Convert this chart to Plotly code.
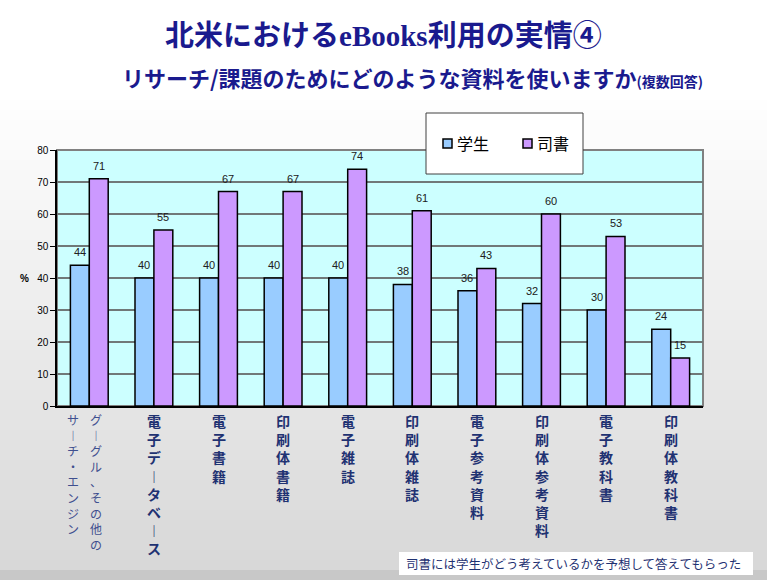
import plotly.graph_objects as go

# data
categories = ["グーグル、その他のサーチ・エンジン", "電子データベース", "電子書籍", "印刷体書籍", "電子雑誌",
              "印刷体雑誌", "電子参考資料", "印刷体参考資料", "電子教科書", "印刷体教科書"]
# how each category label is split into vertical columns (right column first)
label_columns = [["グーグル、その他の", "サーチ・エンジン"], ["電子データベース"], ["電子書籍"], ["印刷体書籍"],
                 ["電子雑誌"], ["印刷体雑誌"], ["電子参考資料"], ["印刷体参考資料"], ["電子教科書"], ["印刷体教科書"]]
students = [44, 40, 40, 40, 40, 38, 36, 32, 30, 24]
librarians = [71, 55, 67, 67, 74, 61, 43, 60, 53, 15]
series_names = ["学生", "司書"]
y_ticks = [0, 10, 20, 30, 40, 50, 60, 70, 80]

title_text = "北米における<span style='font-family:Liberation Serif'>eBooks</span>利用の実情④"
subtitle_text = "リサーチ/課題のためにどのような資料を使いますか<span style='font-size:14px'>(複数回答)</span>"
note_text = "司書には学生がどう考えているかを予想して答えてもらった"

W, H = 767, 580
L, R, T, B = 57, 64, 150, 174
PW, PH = W - L - R, H - T - B

BLUE = "#99CCFF"
PURPLE = "#CC99FF"
NAVY = "#1A1A8E"
LABEL = "#1F3272"
CJK = "Noto Sans CJK JP"
NARROW = "Liberation Sans Narrow, Arial Narrow, sans-serif"


def px_x(px):
    return (px - L) / PW


def px_y(py):
    return (H - B - py) / PH


def vertical(text):
    # stack characters top to bottom, long vowel mark in its vertical form
    return "<br>".join("︱" if ch == "ー" else ch for ch in text)


fig = go.Figure()
fig.add_trace(go.Bar(x=categories, y=students, name=series_names[0],
                     marker=dict(color=BLUE, line=dict(color="black", width=1.5))))
fig.add_trace(go.Bar(x=categories, y=librarians, name=series_names[1],
                     marker=dict(color=PURPLE, line=dict(color="black", width=1.5))))

shapes = []
# vertical gradient background
step = 10
for y0 in range(0, H, step):
    if y0 < 90:
        g = 255
    else:
        t = min(1.0, (y0 - 90) / (570 - 90))
        g = int(round(255 - t * 40))
    if y0 >= 570:
        g = 200
    col = "rgb(%d,%d,%d)" % (g, g, g)
    shapes.append(dict(type="rect", xref="paper", yref="paper", layer="below",
                       x0=px_x(0), x1=px_x(W), y0=px_y(y0 + step), y1=px_y(y0),
                       fillcolor=col, line=dict(width=0)))
# plot area
shapes.append(dict(type="rect", xref="paper", yref="paper", layer="below",
                   x0=0, x1=1, y0=0, y1=1, fillcolor="#CCFFFF",
                   line=dict(color="#808080", width=2)))
# legend box
shapes.append(dict(type="rect", xref="paper", yref="paper", layer="above",
                   x0=px_x(426), x1=px_x(583), y0=px_y(174), y1=px_y(113),
                   fillcolor="white", line=dict(color="#404040", width=1)))
shapes.append(dict(type="rect", xref="paper", yref="paper", layer="above",
                   x0=px_x(443), x1=px_x(452), y0=px_y(148), y1=px_y(139),
                   fillcolor=BLUE, line=dict(color="black", width=1.5)))
shapes.append(dict(type="rect", xref="paper", yref="paper", layer="above",
                   x0=px_x(523), x1=px_x(532), y0=px_y(148), y1=px_y(139),
                   fillcolor=PURPLE, line=dict(color="black", width=1.5)))
# note box
shapes.append(dict(type="rect", xref="paper", yref="paper", layer="above",
                   x0=px_x(399), x1=px_x(753), y0=px_y(575), y1=px_y(552),
                   fillcolor="white", line=dict(width=0)))

annotations = []
# titles
annotations.append(dict(xref="paper", yref="paper", x=px_x(383), y=px_y(33), xanchor="center", yanchor="middle",
                        showarrow=False, text="<b>" + title_text + "</b>",
                        font=dict(family=CJK, size=29, color=NAVY)))
annotations.append(dict(xref="paper", yref="paper", x=px_x(412), y=px_y(77), xanchor="center", yanchor="middle",
                        showarrow=False, text="<b>" + subtitle_text + "</b>",
                        font=dict(family=CJK, size=22, color=NAVY)))
# legend texts
annotations.append(dict(xref="paper", yref="paper", x=px_x(455), y=px_y(143), xanchor="left", yanchor="middle",
                        showarrow=False, text=series_names[0], font=dict(family=CJK, size=16, color="black")))
annotations.append(dict(xref="paper", yref="paper", x=px_x(535), y=px_y(143), xanchor="left", yanchor="middle",
                        showarrow=False, text=series_names[1], font=dict(family=CJK, size=16, color="black")))
# note
annotations.append(dict(xref="paper", yref="paper", x=px_x(404), y=px_y(563), xanchor="left", yanchor="middle",
                        showarrow=False, text=note_text, font=dict(family=CJK, size=12.5, color=LABEL)))
# y axis title
annotations.append(dict(xref="paper", yref="y", x=px_x(24), y=40, xanchor="center", yanchor="middle",
                        showarrow=False, text="<b>%</b>",
                        font=dict(family="Liberation Sans", size=10, color="black")))

# value labels above bars
for cat, s, lb in zip(categories, students, librarians):
    for val, shift in ((s, -9.5), (lb, 9.5)):
        annotations.append(dict(x=cat, y=val, xref="x", yref="y", xshift=shift, yshift=5,
                                xanchor="center", yanchor="bottom", showarrow=False, text=str(val),
                                font=dict(family=NARROW, size=11, color="#202020")))

# vertical category labels
for cat, cols in zip(categories, label_columns):
    if len(cols) > 1:
        offsets, fsize, weight, color = [7, -16], 12, "normal", "#3F4F8F"
    else:
        offsets, fsize, weight, color = [0], 14, "bold", LABEL
    for col_text, off in zip(cols, offsets):
        annotations.append(dict(x=cat, y=0, xref="x", yref="y", xshift=off, yshift=-3,
                                xanchor="center", yanchor="top", showarrow=False,
                                text=vertical(col_text),
                                font=dict(family=CJK, size=fsize, color=color, weight=weight)))

fig.update_layout(
    width=W, height=H,
    margin=dict(l=L, r=R, t=T, b=B),
    paper_bgcolor="white",
    plot_bgcolor="#CCFFFF",
    barmode="group",
    bargap=0.415,
    bargroupgap=0,
    showlegend=False,
    shapes=shapes,
    annotations=annotations,
    xaxis=dict(showticklabels=False, ticks="", showline=True, linecolor="black", linewidth=1.5,
               showgrid=False, fixedrange=True),
    yaxis=dict(range=[0, 80], tickvals=y_ticks, showgrid=True, gridcolor="#707878", gridwidth=1.5,
               showline=True, linecolor="black", linewidth=1.5, ticks="outside", ticklen=5,
               tickcolor="black", tickfont=dict(family=NARROW, size=10, color="black"),
               zeroline=False, fixedrange=True),
)

fig.write_html("out.html", config={"displayModeBar": False},
               post_script="document.body.style.margin='0';")
